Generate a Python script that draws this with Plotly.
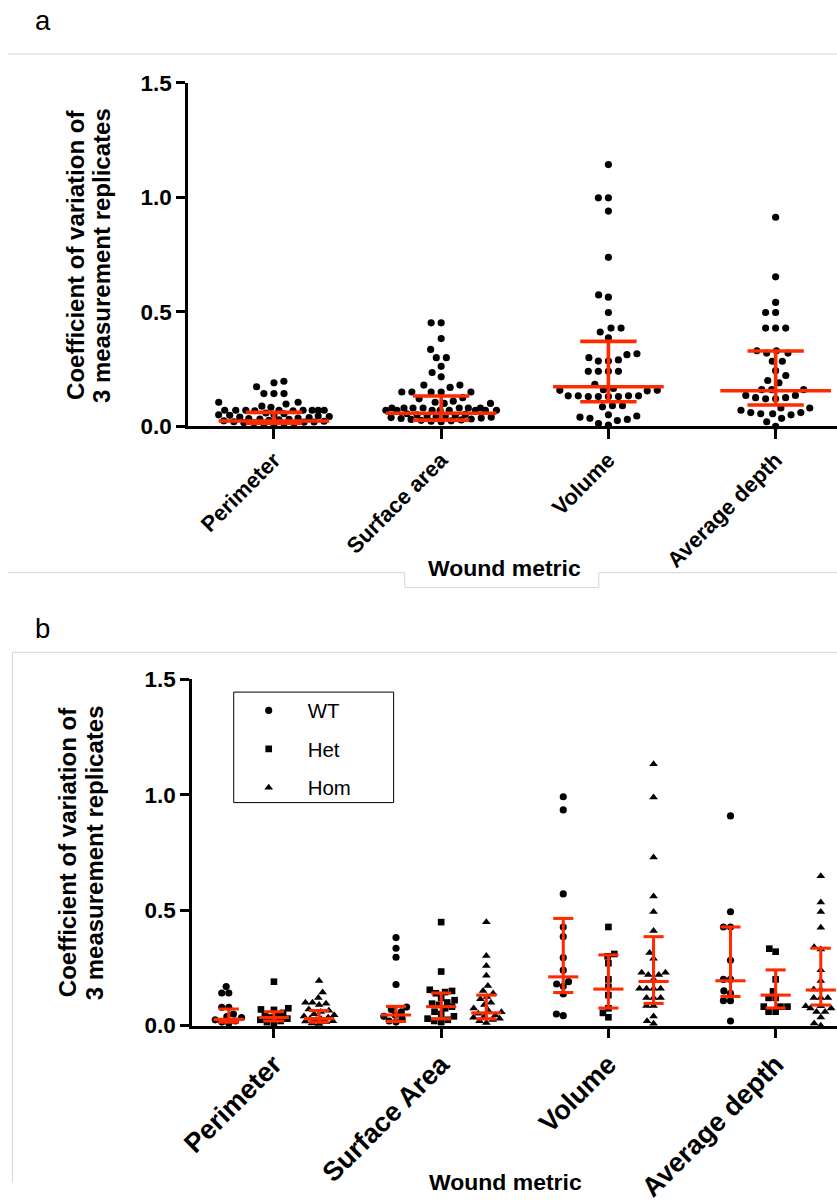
import math
import plotly.graph_objects as go

W, H = 837, 1203
# The photographed page shows the figure slightly reduced and offset; reference
# pixel positions are mapped through this calibration so the picture lines up.
CAL_SX, CAL_OX = 0.979, 13.5
CAL_SY, CAL_OY = 0.977, 11.8
K = 1 / 0.979  # size compensation for fonts / markers

# ---------------- Panel a data ----------------
metrics_a = ["Perimeter", "Surface area", "Volume", "Average depth"]

perimeter_a = [0.197, 0.19, 0.173, 0.143, 0.143, 0.143, 0.105, 0.105, 0.097, 0.088, 0.083,
               0.07, 0.07, 0.07, 0.07, 0.07, 0.07, 0.07, 0.07, 0.068, 0.068,
               0.058, 0.055, 0.052, 0.05, 0.048, 0.045, 0.043, 0.04, 0.038, 0.036, 0.034,
               0.032, 0.03, 0.028, 0.026, 0.024, 0.022, 0.02, 0.019, 0.018, 0.016, 0.015,
               0.013, 0.012, 0.01, 0.008]
surface_a = [0.452, 0.452, 0.383, 0.336, 0.30, 0.30, 0.262, 0.235, 0.216, 0.18, 0.18, 0.17,
             0.15, 0.15, 0.15, 0.15, 0.15, 0.125, 0.12, 0.11, 0.105, 0.10, 0.10,
             0.08, 0.08, 0.08, 0.08, 0.08, 0.08, 0.08, 0.07, 0.07, 0.07, 0.07, 0.07, 0.07,
             0.07, 0.07, 0.055, 0.052, 0.05, 0.048, 0.046, 0.044, 0.042, 0.04, 0.038,
             0.036, 0.034, 0.032, 0.03, 0.028, 0.026, 0.024, 0.022, 0.02]
volume_a = [1.143, 0.998, 0.998, 0.94, 0.738, 0.574, 0.564, 0.497, 0.429, 0.429, 0.412, 0.387,
            0.317, 0.313, 0.30, 0.29, 0.285, 0.285, 0.24, 0.24, 0.24, 0.24, 0.183, 0.165,
            0.16, 0.157, 0.157, 0.155, 0.133, 0.133, 0.133, 0.133, 0.13, 0.13, 0.13, 0.13,
            0.09, 0.09, 0.085, 0.05, 0.045, 0.04, 0.035, 0.03, 0.025, 0.012, 0.005]
avgdepth_a = [0.913, 0.653, 0.541, 0.497, 0.497, 0.429, 0.429, 0.429, 0.33, 0.33, 0.32, 0.32,
              0.284, 0.284, 0.243, 0.222, 0.2, 0.19, 0.16, 0.16, 0.16, 0.135, 0.135, 0.125,
              0.125, 0.12, 0.12, 0.08, 0.08, 0.07, 0.06, 0.06, 0.055, 0.055, 0.05, 0.035,
              0.02, 0.0]

median_a = [0.023, 0.057, 0.173, 0.155]
q1_a = [0.014, 0.027, 0.107, 0.093]
q3_a = [0.061, 0.132, 0.371, 0.329]

# ---------------- Panel b data ----------------
metrics_b = ["Perimeter", "Surface Area", "Volume", "Average depth"]
genotypes = ["WT", "Het", "Hom"]

wt_perimeter = [0.169, 0.141, 0.141, 0.079, 0.079, 0.05, 0.039, 0.035, 0.025, 0.02, 0.015, 0.01]
het_perimeter = [0.19, 0.075, 0.07, 0.068, 0.055, 0.045, 0.04, 0.035, 0.03, 0.025, 0.02, 0.015, 0.012]
hom_perimeter = [0.194, 0.144, 0.12, 0.10, 0.10, 0.095, 0.09, 0.07, 0.065, 0.06, 0.05, 0.045,
                 0.04, 0.035, 0.03, 0.028, 0.025, 0.02, 0.018, 0.015, 0.01, 0.008]
wt_surface = [0.381, 0.335, 0.296, 0.178, 0.08, 0.07, 0.06, 0.045, 0.04, 0.03, 0.02, 0.015]
het_surface = [0.448, 0.234, 0.155, 0.15, 0.145, 0.14, 0.12, 0.11, 0.1, 0.095, 0.09, 0.082,
               0.075, 0.06, 0.05, 0.04, 0.03, 0.025, 0.02, 0.015]
hom_surface = [0.448, 0.302, 0.259, 0.216, 0.172, 0.15, 0.14, 0.125, 0.115, 0.1, 0.09, 0.075,
               0.065, 0.058, 0.052, 0.045, 0.04, 0.035, 0.03, 0.025, 0.02, 0.012]
wt_volume = [0.991, 0.934, 0.57, 0.427, 0.385, 0.294, 0.24, 0.19, 0.18, 0.17, 0.137, 0.05, 0.043]
het_volume = [0.427, 0.31, 0.30, 0.27, 0.2, 0.168, 0.132, 0.075, 0.055, 0.036]
hom_volume = [1.132, 0.988, 0.728, 0.56, 0.493, 0.41, 0.315, 0.29, 0.23, 0.23, 0.22, 0.22, 0.2,
              0.16, 0.16, 0.16, 0.16, 0.12, 0.12, 0.12, 0.086, 0.086, 0.04, 0.02, 0.009]
wt_depth = [0.908, 0.493, 0.427, 0.427, 0.283, 0.2, 0.2, 0.15, 0.14, 0.108, 0.108, 0.02]
het_depth = [0.333, 0.32, 0.2, 0.148, 0.12, 0.12, 0.082, 0.082, 0.082, 0.06, 0.06]
hom_depth = [0.647, 0.534, 0.493, 0.424, 0.34, 0.33, 0.24, 0.194, 0.157, 0.157, 0.12, 0.12,
             0.12, 0.084, 0.084, 0.075, 0.075, 0.06, 0.06, 0.036, 0.01, 0.0]

wt_median = [0.027, 0.046, 0.211, 0.194]
wt_q1 = [0.015, 0.018, 0.143, 0.126]
wt_q3 = [0.072, 0.083, 0.464, 0.427]
het_median = [0.035, 0.082, 0.158, 0.132]
het_q1 = [0.02, 0.029, 0.076, 0.076]
het_q3 = [0.06, 0.141, 0.306, 0.241]
hom_median = [0.03, 0.055, 0.191, 0.154]
hom_q1 = [0.015, 0.029, 0.096, 0.089]
hom_q3 = [0.065, 0.132, 0.385, 0.335]

y_ticks = [0.0, 0.5, 1.0, 1.5]

# ---------------- helpers ----------------
RED = "#FF2A00"
FONT = "Liberation Sans"
XPX = 166.3  # picture px per category unit
TICK0 = 273.0  # picture px of the first category


def px(x):
    return ((x - CAL_OX) / CAL_SX) / W


def py(y):
    return 1 - ((y - CAL_OY) / CAL_SY) / H


RIGHT_PIC = CAL_SX * W + CAL_OX  # picture px of the figure's right edge


def swarm(vals, ypx, d, cap):
    """Beeswarm offsets (px) with a maximum half-width; dense parts overlap."""
    order = sorted(range(len(vals)), key=lambda i: vals[i])
    placed = []
    offs = [0.0] * len(vals)
    for i in order:
        y = vals[i] * ypx
        forb = []
        for (ox, oy) in placed:
            dy = abs(oy - y)
            if dy < d:
                dx = math.sqrt(d * d - dy * dy)
                forb.append((ox - dx, ox + dx))
        cands = [0.0] + [a for a, b in forb] + [b for a, b in forb]
        cands = [c for c in cands if abs(c) <= cap]
        cands.sort(key=lambda c: (abs(c), c))
        chosen = None
        for c in cands:
            if all(not (a + 1e-9 < c < b - 1e-9) for a, b in forb):
                chosen = c
                break
        if chosen is None:
            best_score = None
            for k in range(-int(cap), int(cap) + 1):
                c = float(k)
                md = min(math.hypot(c - ox, y - oy) for ox, oy in placed)
                score = (round(md, 3), -abs(c))
                if best_score is None or score > best_score:
                    best_score = score
                    chosen = c
        offs[i] = chosen
        placed.append((chosen, y))
    return offs


def summary_xy(centers, med, lo, hi, hw, cw):
    xs, ys = [], []
    for c, m, a, b in zip(centers, med, lo, hi):
        xs += [c - hw, c + hw, None, c, c, None, c - cw, c + cw, None, c - cw, c + cw, None]
        ys += [m, m, None, a, b, None, a, a, None, b, b, None]
    return xs, ys


fig = go.Figure()

# ---------------- Panel a ----------------
groups_a = [perimeter_a, surface_a, volume_a, avgdepth_a]
xa, ya = [], []
for gi, vals in enumerate(groups_a):
    offs = swarm(vals, 230, 10, 55)
    xa += [gi + o / XPX for o in offs]
    ya += vals
fig.add_trace(go.Scatter(x=xa, y=ya, mode="markers", xaxis="x", yaxis="y",
                         marker=dict(symbol="circle", size=7 * K, color="black"),
                         showlegend=False, cliponaxis=False, hoverinfo="y"))
sx, sy = summary_xy(list(range(4)), median_a, q1_a, q3_a, 55 / XPX, 28 / XPX)
fig.add_trace(go.Scatter(x=sx, y=sy, mode="lines", xaxis="x", yaxis="y",
                         line=dict(color=RED, width=3.5 * K), showlegend=False,
                         cliponaxis=False, hoverinfo="skip"))

# ---------------- Panel b ----------------
geno_data = {
    "WT": [wt_perimeter, wt_surface, wt_volume, wt_depth],
    "Het": [het_perimeter, het_surface, het_volume, het_depth],
    "Hom": [hom_perimeter, hom_surface, hom_volume, hom_depth],
}
geno_stats = {
    "WT": (wt_median, wt_q1, wt_q3),
    "Het": (het_median, het_q1, het_q3),
    "Hom": (hom_median, hom_q1, hom_q3),
}
geno_offset = {"WT": -0.27, "Het": 0.0, "Hom": 0.27}
geno_symbol = {"WT": "circle", "Het": "square", "Hom": "triangle-up"}
geno_size = {"WT": 7 * K, "Het": 6.5 * K, "Hom": 7.5 * K}

for g in genotypes:
    xb, yb = [], []
    for mi, vals in enumerate(geno_data[g]):
        offs = swarm(vals, 232, 7, 15)
        c = mi + geno_offset[g]
        xb += [c + o / XPX for o in offs]
        yb += vals
    fig.add_trace(go.Scatter(x=xb, y=yb, mode="markers", xaxis="x2", yaxis="y2", name=g,
                             legendgroup=g,
                             marker=dict(symbol=geno_symbol[g], size=geno_size[g], color="black"),
                             cliponaxis=False, hoverinfo="y+name"))

for g in genotypes:
    med, lo, hi = geno_stats[g]
    centers = [mi + geno_offset[g] for mi in range(4)]
    sx, sy = summary_xy(centers, med, lo, hi, 15 / XPX, 10 / XPX)
    fig.add_trace(go.Scatter(x=sx, y=sy, mode="lines", xaxis="x2", yaxis="y2",
                             line=dict(color=RED, width=3 * K), showlegend=False,
                             cliponaxis=False, hoverinfo="skip"))

# ---------------- axes ----------------
axis_common = dict(showline=True, linecolor="black", linewidth=3 * K, ticks="outside",
                   ticklen=9 * K, tickwidth=3 * K, tickcolor="black", showgrid=False,
                   zeroline=False, fixedrange=True)
ytick_font = dict(family=FONT, size=22 * K, color="black", weight="bold")

xa_rng = [(188 - TICK0) / XPX, (RIGHT_PIC - TICK0) / XPX]
xb_rng = [(192 - TICK0) / XPX, (RIGHT_PIC - TICK0) / XPX]

fig.update_layout(
    width=W, height=H,
    margin=dict(l=0, r=0, t=0, b=0),
    paper_bgcolor="white", plot_bgcolor="white",
    xaxis=dict(domain=[px(188), 1.0], range=xa_rng, anchor="y",
               tickmode="array", tickvals=[0, 1, 2, 3], ticktext=metrics_a, tickangle=-45,
               tickfont=dict(family=FONT, size=21.5 * K, color="black", weight="bold"),
               **axis_common),
    yaxis=dict(domain=[py(428), py(83)], range=[0, 1.5], anchor="x",
               tickmode="array", tickvals=y_ticks, tickformat=".1f", tickfont=ytick_font,
               **axis_common),
    xaxis2=dict(domain=[px(192), 1.0], range=xb_rng, anchor="y2",
                tickmode="array", tickvals=[0, 1, 2, 3], ticktext=metrics_b, tickangle=-45,
                tickfont=dict(family=FONT, size=26.5 * K, color="black", weight="bold"),
                **axis_common),
    yaxis2=dict(domain=[py(1030), py(682)], range=[0, 1.5], anchor="x2",
                tickmode="array", tickvals=y_ticks, tickformat=".1f", tickfont=ytick_font,
                **axis_common),
    showlegend=True,
    legend=dict(x=px(229), y=py(693.5), xanchor="left", yanchor="top",
                bgcolor="rgba(0,0,0,0)", borderwidth=0, itemwidth=68,
                traceorder="grouped", tracegroupgap=9,
                font=dict(family=FONT, size=20 * K, color="black")),
)

GRAY = "#d6d6d6"
shapes = [
    dict(type="line", xref="paper", yref="paper", x0=px(8), x1=1.0, y0=py(54), y1=py(54),
         line=dict(color=GRAY, width=1)),
    dict(type="path", xref="paper", yref="paper",
         path=f"M {px(8)},{py(575)} L {px(403)},{py(575)} L {px(403)},{py(590)} "
              f"L {px(596)},{py(590)} L {px(596)},{py(575)} L 1,{py(575)}",
         line=dict(color=GRAY, width=1)),
    dict(type="path", xref="paper", yref="paper",
         path=f"M {px(13)},0 L {px(13)},{py(655)} L 1,{py(655)}",
         line=dict(color=GRAY, width=1)),
    dict(type="rect", xref="paper", yref="paper", x0=px(233), x1=px(392),
         y0=py(806), y1=py(695), line=dict(color="black", width=1)),
]
fig.update_layout(shapes=shapes)

bold_title = dict(family=FONT, size=23.5 * K, color="black", weight="bold")
bold22 = dict(family=FONT, size=22.5 * K, color="black", weight="bold")


def ann(text, x, y, font, angle=0, xanchor="center"):
    return dict(text=text, x=px(x), y=py(y), xref="paper", yref="paper", xanchor=xanchor,
                yanchor="middle", textangle=angle, showarrow=False, font=font)


annotations = [
    ann("a", 33, 20, dict(family=FONT, size=27 * K, color="black"), xanchor="left"),
    ann("b", 33, 631, dict(family=FONT, size=27 * K, color="black"), xanchor="left"),
    ann("Coefficient of variation of", 75, 256, bold_title, -90),
    ann("3 measurement replicates", 101, 256, bold_title, -90),
    ann("Coefficient of variation of", 68, 856, bold_title, -90),
    ann("3 measurement replicates", 94, 856, bold_title, -90),
    ann("Wound metric", 502, 570, bold22),
    ann("Wound metric", 503, 1187, bold22),
]
fig.update_layout(annotations=annotations)

fig.write_html("out.html", config={"displayModeBar": False})
